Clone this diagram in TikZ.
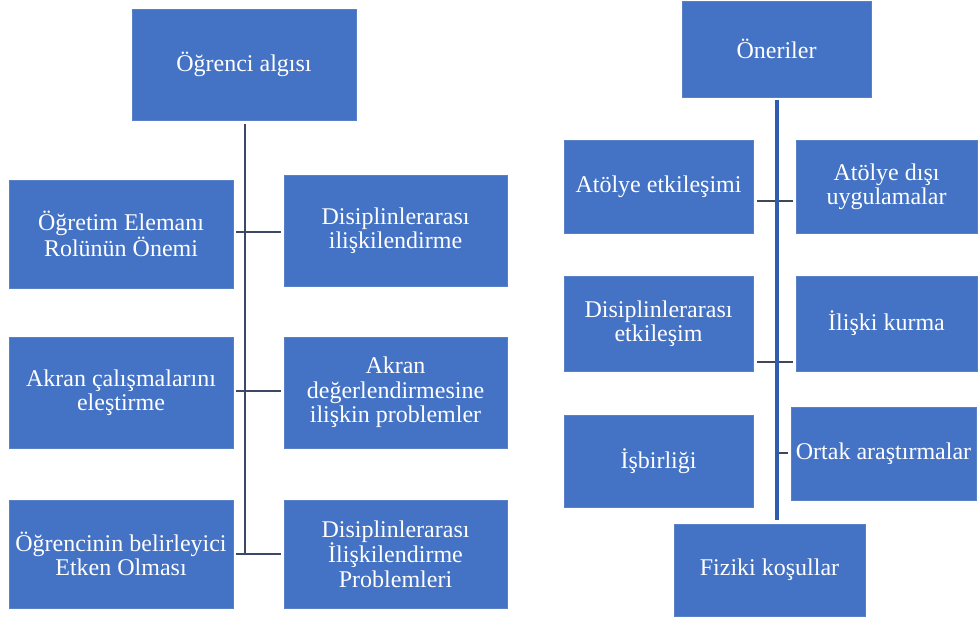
\documentclass[tikz,border=0pt]{standalone}
\usepackage{fontspec}
\setmainfont{Liberation Serif}
\definecolor{boxblue}{HTML}{4472C4}
\definecolor{boxedge}{HTML}{5A80C6}
\definecolor{trunkdark}{HTML}{3C4866}
\definecolor{trunkblue}{HTML}{2F5CB0}
\definecolor{conndark}{HTML}{404858}
\tikzset{
  box/.style={rectangle, fill=boxblue, draw=boxedge, line width=0.8pt, text=white,
    align=center, inner sep=0pt, font=\fontsize{24}{24.4}\selectfont},
  ltrunk/.style={draw=trunkdark, line width=2.2pt},
  rtrunk/.style={draw=trunkblue, line width=4.5pt},
  lconn/.style={draw=trunkdark, line width=2.2pt},
  rconn/.style={draw=conndark, line width=2.2pt},
}
\begin{document}
\begin{tikzpicture}[x=1pt,y=-1pt]
\useasboundingbox (0,0) rectangle (979,621);
% ---- left tree ----
\node[box, minimum width=224pt, minimum height=111pt] (la) at (244,64.5) {Öğrenci algısı};
\node[box, minimum width=224pt, minimum height=108pt] (l1) at (121,234) {Öğretim Elemanı\\Rolünün Önemi};
\node[box, minimum width=223pt, minimum height=111pt] (r1) at (395.5,230.5) {Disiplinlerarası\\ilişkilendirme};
\node[box, minimum width=224pt, minimum height=111pt] (l2) at (121,392.5) {Akran çalışmalarını\\eleştirme};
\node[box, minimum width=223pt, minimum height=111pt] (r2) at (395.5,392.5) {Akran\\değerlendirmesine\\ilişkin problemler};
\node[box, minimum width=224pt, minimum height=108pt] (l3) at (121,554) {Öğrencinin belirleyici\\Etken Olması};
\node[box, minimum width=223pt, minimum height=108pt] (r3) at (395.5,554) {Disiplinlerarası\\İlişkilendirme\\Problemleri};
\coordinate (ltop) at (245,124);
\coordinate (lend) at (245,555);
\coordinate (k1) at (236,232);
\coordinate (k2) at (236,391);
\coordinate (k3) at (236,554);
\draw[ltrunk] (ltop) -- (lend);
\draw[lconn] (k1) -- ([xshift=-3pt]k1 -| r1.west);
\draw[lconn] (k2) -- ([xshift=-3pt]k2 -| r2.west);
\draw[lconn] (k3) -- ([xshift=-3pt]k3 -| r3.west);
% ---- right tree ----
\node[box, minimum width=189pt, minimum height=96pt] (ro) at (776.5,49) {Öneriler};
\node[box, minimum width=189pt, minimum height=93pt] (a1) at (658.5,186.5) {Atölye etkileşimi};
\node[box, minimum width=181pt, minimum height=93pt] (b1) at (886.5,186.5) {Atölye dışı\\uygulamalar};
\node[box, minimum width=189pt, minimum height=95pt] (a2) at (658.5,323.5) {Disiplinlerarası\\etkileşim};
\node[box, minimum width=181pt, minimum height=95pt] (b2) at (886.5,323.5) {İlişki kurma};
\node[box, minimum width=189pt, minimum height=92pt] (a3) at (658.5,461) {İşbirliği};
\node[box, minimum width=185pt, minimum height=93pt] (b3) at (883.5,453.5) {Ortak araştırmalar};
\node[box, minimum width=191pt, minimum height=92pt] (f) at (769.5,570) {Fiziki koşullar};
\coordinate (rtop) at (777,100);
\coordinate (rend) at (777,520);
\coordinate (c1) at (757,201);
\coordinate (c2) at (757,362);
\coordinate (c3) at (777,453);
\draw[rconn] (c1) -- ([xshift=-3pt]c1 -| b1.west);
\draw[rconn] (c2) -- ([xshift=-3pt]c2 -| b2.west);
\draw[rconn] (c3) -- ([xshift=-3pt]c3 -| b3.west);
\draw[rtrunk] (rtop) -- (rend);
\end{tikzpicture}
\end{document}
